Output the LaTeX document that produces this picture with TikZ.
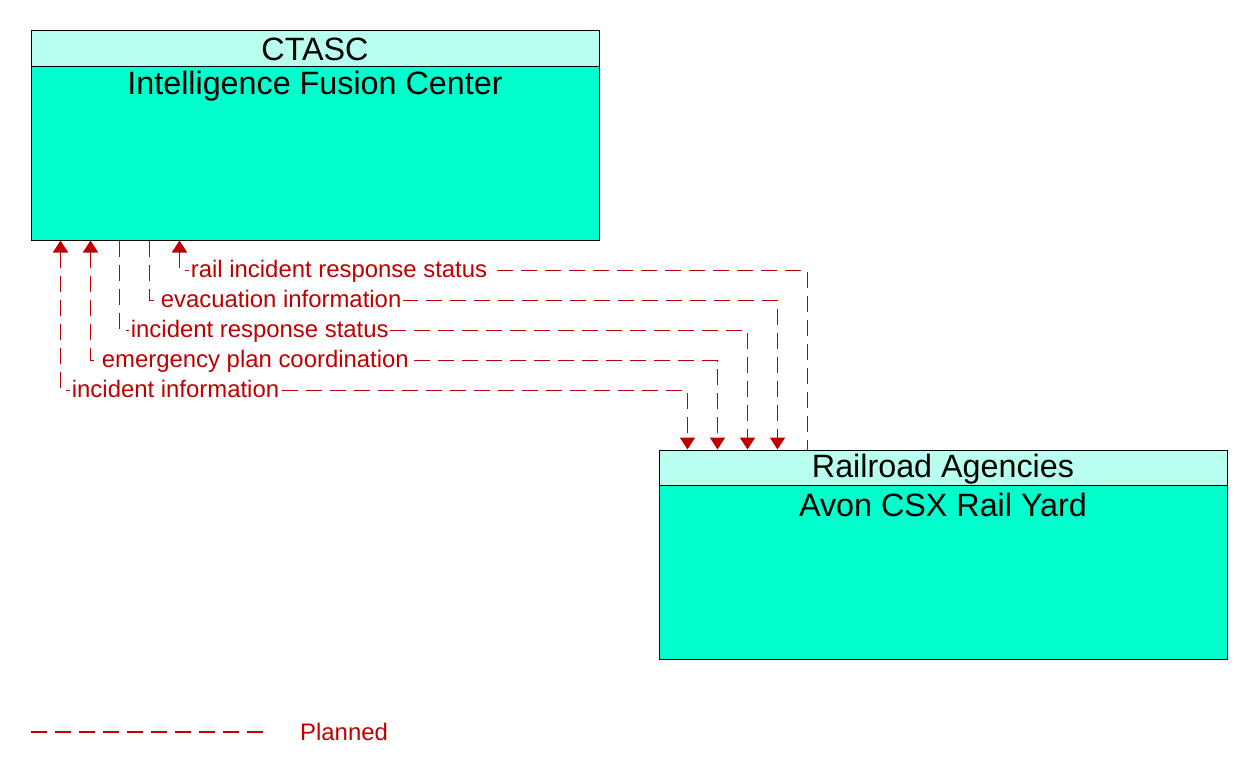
\documentclass[tikz,border=0pt]{standalone}
\usepackage{fontspec}
\setmainfont{Liberation Sans}
\usetikzlibrary{arrows.meta}
\definecolor{hdr}{RGB}{184,255,240}
\definecolor{body}{RGB}{0,255,204}
\definecolor{flow}{RGB}{192,0,0}
\tikzset{
  box/.style={draw=black,line width=1pt,fill=body,inner sep=0pt,minimum width=568pt},
  hdrbox/.style={draw=black,line width=1pt,fill=hdr,inner sep=0pt,minimum width=568pt},
  ttl/.style={font=\fontsize{32.3}{37}\selectfont,text=black,inner sep=0pt},
  planned/.style={draw=flow,line width=1.8pt,dash pattern=on 16pt off 8pt},
  lab/.style={font=\fontsize{23.9}{28}\selectfont,text=flow,fill=white,inner xsep=1.5pt,inner ysep=0pt,anchor=base west,yshift=-7pt,xshift=9pt},
  arr/.tip={Triangle[width=15pt,length=12pt]},
  tip/.style={arr-arr},
  tipend/.style={-arr},
  tipstart/.style={arr-}
}
\begin{document}
\begin{tikzpicture}[x=1pt,y=-1pt]
\useasboundingbox (0,0) rectangle (1252,778);
% boxes
\node[box,minimum height=209pt] (ifc) at (315,135.5) {};
\node[hdrbox,minimum height=36pt] (ifch) at (315,49) {};
\node[ttl] (ifct) at (315,49.5) {CTASC};
\node[ttl] (ifcn) at (315,86) {Intelligence Fusion Center};
\node[box,minimum height=209pt] (avon) at (943,554.5) {};
\node[hdrbox,minimum height=35pt] (avonh) at (943,467.5) {};
\node[ttl] (avont) at (943,469) {Railroad Agencies};
\node[ttl] (avonn) at (943,505) {Avon CSX Rail Yard};
% flows
\draw[planned,tipstart] ([xshift=149pt]ifc.south west) -- ++(0,30) node[lab] (l1) {rail incident response status} -| ([xshift=149pt]avon.north west);
\draw[planned,tipend] ([xshift=119pt]ifc.south west) -- ++(0,60) node[lab] (l2) {evacuation information} -| ([xshift=119pt]avon.north west);
\draw[planned,tipend] ([xshift=89pt]ifc.south west) -- ++(0,90) node[lab] (l3) {incident response status} -| ([xshift=89pt]avon.north west);
\draw[planned,tip] ([xshift=60pt]ifc.south west) -- ++(0,120) node[lab] (l4) {emergency plan coordination} -| ([xshift=59pt]avon.north west);
\draw[planned,tip] ([xshift=30pt]ifc.south west) -- ++(0,150) node[lab] (l5) {incident information} -| ([xshift=29pt]avon.north west);
% legend
\coordinate (lg1) at (31,732);
\coordinate (lg2) at (265,732);
\draw[planned] (lg1) -- (lg2);
\node[font=\fontsize{23.9}{28}\selectfont,text=flow,anchor=base west,inner sep=0pt] (lgt) at (300,740) {Planned};
\end{tikzpicture}
\end{document}
